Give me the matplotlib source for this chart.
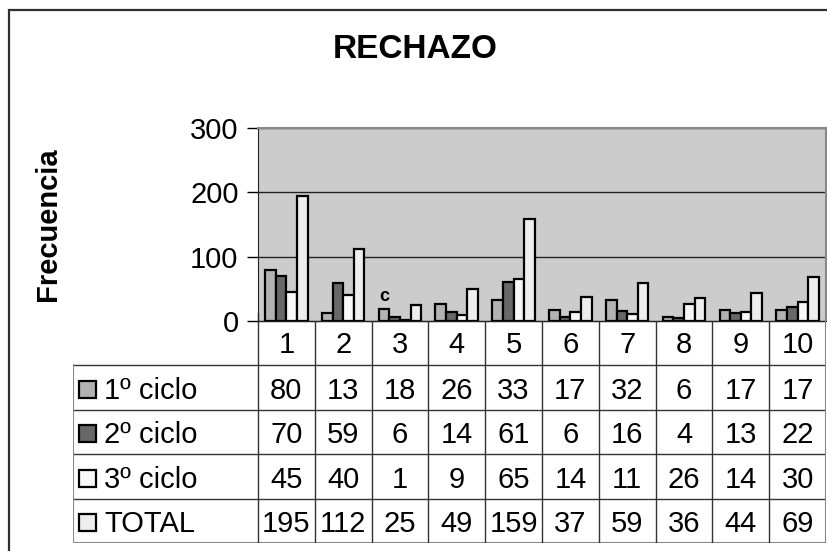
import matplotlib
matplotlib.use("Agg")
import matplotlib.pyplot as plt
from matplotlib.patches import Rectangle
import numpy as np

# data
categorias = ["1", "2", "3", "4", "5", "6", "7", "8", "9", "10"]
series = ["1º ciclo", "2º ciclo", "3º ciclo", "TOTAL"]
ciclo1 = [80, 13, 18, 26, 33, 17, 32, 6, 17, 17]
ciclo2 = [70, 59, 6, 14, 61, 6, 16, 4, 13, 22]
ciclo3 = [45, 40, 1, 9, 65, 14, 11, 26, 14, 30]
total = [195, 112, 25, 49, 159, 37, 59, 36, 44, 69]
colores = ["#b2b2b2", "#686868", "#f8f8f8", "#eeeeee"]
y_ticks = [0, 100, 200, 300]

plt.rcParams['font.family'] = ['Liberation Sans', 'DejaVu Sans']

W, H = 828, 551
fig = plt.figure(figsize=(W / 100, H / 100), dpi=100)

def box(x0, y0, x1, y1):
    # pixel box (top-left origin) -> figure fraction
    return [x0 / W, 1 - y1 / H, (x1 - x0) / W, (y1 - y0) / H]

# chart border
fig.patches.append(Rectangle((9 / W, -0.1), 1.2, 1 - 10 / H + 0.1, transform=fig.transFigure,
                             fill=False, edgecolor="#303030", lw=1.6))

fig.text(415 / W, 1 - 49 / H, "RECHAZO", ha="center", va="center",
         fontsize=24, fontweight="bold")
fig.text(48 / W, 1 - 224 / H, "Frecuencia", ha="center", va="center",
         rotation=90, fontsize=21, fontweight="bold")

# bar plot
ax = fig.add_axes(box(258, 128, 826, 321))
ax.set_facecolor("#cccccc")
x = np.arange(len(categorias))
bw = 0.1875
datos = [ciclo1, ciclo2, ciclo3, total]
for k, (vals, col) in enumerate(zip(datos, colores)):
    ax.bar(x + (k - 1.5) * bw, vals, bw, color=col, edgecolor="black", lw=1.6, zorder=3)

ax.annotate("c", (x[2] - 1.5 * bw, ciclo1[2]), xytext=(0, 3), textcoords="offset points",
            ha="center", va="bottom", fontsize=13, fontweight="bold")

ax.set_xlim(-0.5, len(categorias) - 0.5)
ax.set_ylim(0, 300)
ax.set_yticks(y_ticks)
ax.set_yticklabels([str(t) for t in y_ticks], fontsize=21)
ax.set_xticks([])
ax.tick_params(axis="y", length=8, width=1, pad=6)
ax.grid(axis="y", color="#222222", lw=1, zorder=1)
for s in ["top", "right"]:
    ax.spines[s].set_color("#888888")
    ax.spines[s].set_linewidth(1.5)
ax.spines["left"].set_color("#222222")
ax.spines["bottom"].set_color("#222222")
ax.spines["bottom"].set_zorder(4)

# data table
n = len(categorias)
left = -0.5 - (258 - 73) / ((826 - 258) / n)
tab = fig.add_axes(box(73, 321, 826, 543))
tab.set_xlim(left, n - 0.5)
tab.set_ylim(5, 0)
tab.axis("off")
lc = "#333333"
# horizontal lines
tab.plot([-0.5, n - 0.5], [0, 0], color="#222222", lw=1)
for r in range(1, 5):
    tab.plot([left, n - 0.5], [r, r], color=lc, lw=1)
tab.plot([left, n - 0.5], [5, 5], color="#888888", lw=1.5)
# vertical lines
for c in range(n):
    tab.plot([c - 0.5, c - 0.5], [0, 5], color=lc, lw=1)
tab.plot([n - 0.5, n - 0.5], [0, 5], color="#888888", lw=1.5)
tab.plot([left, left], [1, 5], color="#888888", lw=1.5)
tab.plot([-0.5, -0.5], [-0.18, 0], color="#222222", lw=1, clip_on=False)

for c, lab in enumerate(categorias):
    tab.text(c, 0.55, lab, ha="center", va="center", fontsize=21)

px = (826 - 258) / n
for r, (nombre, vals, col) in enumerate(zip(series, datos, colores)):
    yc = r + 1.57
    sq_w = 17 / px
    sq_h = 17 / 44.4
    tab.add_patch(Rectangle((left + 6 / px, yc - sq_h / 2 - 0.03), sq_w, sq_h,
                            facecolor=col, edgecolor="black", lw=1.6))
    tab.text(left + 31 / px, yc, nombre, ha="left", va="center", fontsize=21)
    for c, v in enumerate(vals):
        tab.text(c, yc, str(v), ha="center", va="center", fontsize=21)

fig.savefig("out.png", dpi=100)
